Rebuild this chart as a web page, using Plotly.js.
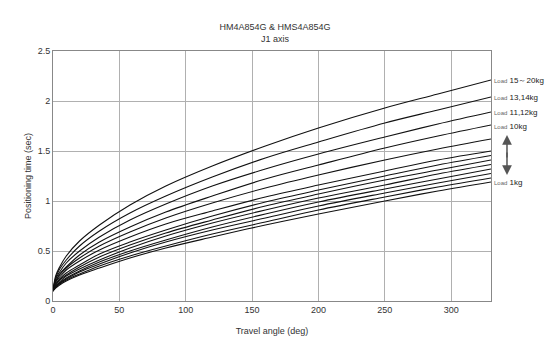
<!DOCTYPE html>
<html>
<head>
<meta charset="utf-8">
<script src="https://cdn.plot.ly/plotly-3.0.1.min.js"></script>
<style>html,body{margin:0;padding:0;background:#fff;}#chart{width:550px;height:352px;}</style>
</head>
<body>
<div id="chart"></div>
<script>
// Travel angle (deg)
const travelAngle = [0, 2, 5, 10, 20, 35, 58, 85, 120, 160, 200, 250, 290, 330];

// Positioning time (sec) per load
const load15_20 = [0.10,0.25,0.34,0.45,0.60,0.76,0.96,1.15,1.35,1.55,1.73,1.93,2.07,2.21];
const load13_14 = [0.10,0.23,0.32,0.41,0.55,0.70,0.88,1.05,1.24,1.43,1.59,1.78,1.91,2.04];
const load11_12 = [0.10,0.22,0.29,0.38,0.50,0.64,0.81,0.97,1.15,1.32,1.47,1.64,1.77,1.89];
const load10 = [0.10,0.20,0.27,0.34,0.46,0.59,0.74,0.89,1.05,1.22,1.36,1.53,1.65,1.76];
const load9 = [0.10,0.19,0.26,0.33,0.43,0.55,0.69,0.83,0.98,1.13,1.26,1.41,1.52,1.62];
const load8 = [0.10,0.19,0.24,0.31,0.40,0.51,0.64,0.77,0.90,1.04,1.16,1.30,1.41,1.50];
const load7 = [0.10,0.17,0.22,0.28,0.36,0.47,0.59,0.71,0.85,0.99,1.11,1.25,1.36,1.455];
const load6 = [0.10,0.16,0.21,0.26,0.34,0.44,0.56,0.68,0.81,0.95,1.07,1.21,1.31,1.41];
const load5 = [0.10,0.15,0.19,0.25,0.32,0.41,0.53,0.65,0.78,0.91,1.03,1.16,1.27,1.365];
const load4 = [0.10,0.15,0.18,0.23,0.30,0.39,0.50,0.61,0.74,0.87,0.99,1.12,1.22,1.32];
const load3 = [0.10,0.14,0.18,0.22,0.29,0.37,0.48,0.59,0.71,0.83,0.95,1.08,1.18,1.275];
const load2 = [0.10,0.14,0.17,0.21,0.27,0.35,0.45,0.55,0.67,0.79,0.91,1.04,1.14,1.23];
const load1 = [0.10,0.13,0.16,0.20,0.26,0.33,0.43,0.53,0.64,0.76,0.87,1.00,1.10,1.19];

const seriesNames = ["15～20kg","13,14kg","11,12kg","10kg","9kg","8kg","7kg","6kg","5kg","4kg","3kg","2kg","1kg"];
const seriesValues = [load15_20, load13_14, load11_12, load10, load9, load8, load7, load6, load5, load4, load3, load2, load1];

// Right-side labels
const labelTexts = ["15～20kg","13,14kg","11,12kg","10kg","1kg"];
const labelY = [2.21, 2.04, 1.89, 1.745, 1.19];

const FONT = 'Liberation Sans, Arial, sans-serif';

const traces = seriesValues.map((v, i) => ({
  x: travelAngle, y: v, type: 'scatter', mode: 'lines', name: seriesNames[i],
  line: {color: '#111', width: 1.1, shape: 'spline', smoothing: 1},
  hoverinfo: 'skip'
}));

const annotations = labelTexts.map((t, i) => ({
  xref: 'paper', yref: 'y', x: 1.003, y: labelY[i], xanchor: 'left', yanchor: 'middle',
  text: "<span style='font-size:6px;color:#666'>Load</span> " + t,
  showarrow: false, font: {family: FONT, size: 8, color: '#222'}
}));
annotations.push({xref:'paper', yref:'y', x:1.0365, y:1.66, ax:0, ay:24, axref:'pixel', ayref:'pixel',
  text:'', showarrow:true, arrowhead:2, arrowsize:1.3, arrowwidth:1.5, arrowcolor:'#555'});
annotations.push({xref:'paper', yref:'y', x:1.0365, y:1.26, ax:0, ay:-24, axref:'pixel', ayref:'pixel',
  text:'', showarrow:true, arrowhead:2, arrowsize:1.3, arrowwidth:1.5, arrowcolor:'#555'});

const axisCommon = {
  showline: true, mirror: true, linecolor: '#888', linewidth: 1,
  showgrid: true, gridcolor: '#b0b0b0', gridwidth: 1, zeroline: false, ticks: '',
  tickfont: {family: FONT, size: 9, color: '#333'}
};

const layout = {
  width: 550, height: 352,
  margin: {l: 53, r: 59, t: 51, b: 51},
  paper_bgcolor: '#fff', plot_bgcolor: '#fff',
  showlegend: false,
  title: {text: 'HM4A854G & HMS4A854G<br>J1 axis', x: 0.5, xanchor: 'center', y: 0.915, yanchor: 'top',
    font: {family: FONT, size: 9, color: '#333'}},
  xaxis: Object.assign({}, axisCommon, {range: [0, 330], tickvals: [0,50,100,150,200,250,300],
    title: {text: 'Travel angle (deg)', standoff: 13, font: {family: FONT, size: 9, color: '#333'}}}),
  yaxis: Object.assign({}, axisCommon, {range: [0, 2.5], tickvals: [0,0.5,1,1.5,2,2.5], ticktext: ['0','0.5','1','1.5','2','2.5'],
    title: {text: 'Positioning time (sec)', standoff: 4, font: {family: FONT, size: 9, color: '#333'}}}),
  annotations: annotations
};

Plotly.newPlot('chart', traces, layout, {staticPlot: true, displayModeBar: false});
</script>
</body>
</html>
